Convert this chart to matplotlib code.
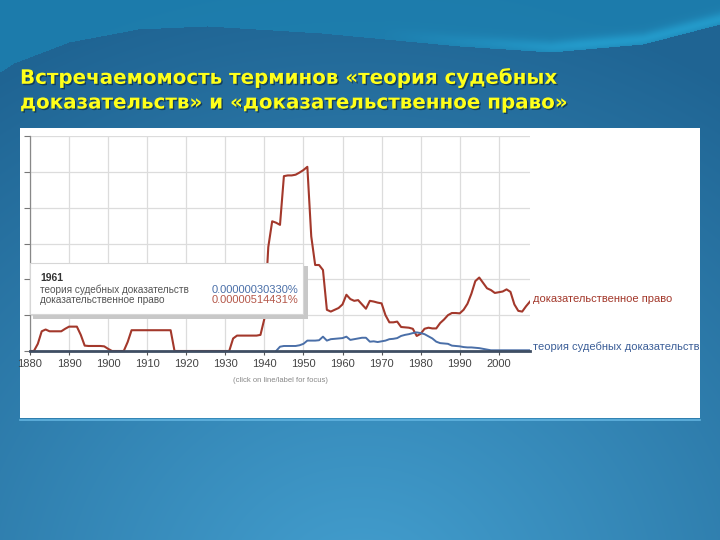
import numpy as np
import matplotlib.pyplot as plt
from matplotlib.patches import Rectangle
import matplotlib.patheffects as pe

# ---- data (in grid units) ----
years = list(range(1880, 2009))
pravo = [
    0.00, 0.00, 0.20, 0.55, 0.60, 0.55, 0.55, 0.55, 0.55, 0.62,   # 1880s
    0.68, 0.68, 0.68, 0.45, 0.15, 0.14, 0.14, 0.14, 0.14, 0.13,   # 1890s
    0.06, 0.00, 0.00, 0.00, 0.00, 0.25, 0.58, 0.58, 0.58, 0.58,   # 1900s
    0.58, 0.58, 0.58, 0.58, 0.58, 0.58, 0.58, 0.00, 0.00, 0.00,   # 1910s
    0.00, 0.00, 0.00, 0.00, 0.00, 0.00, 0.00, 0.00, 0.00, 0.00,   # 1920s
    0.00, 0.00, 0.35, 0.43, 0.43, 0.43, 0.43, 0.43, 0.43, 0.45,   # 1930s
    0.90, 2.90, 3.62, 3.58, 3.52, 4.88, 4.90, 4.90, 4.92, 4.98,   # 1940s
    5.05, 5.14, 3.20, 2.40, 2.40, 2.26, 1.15, 1.10, 1.15, 1.20,   # 1950s
    1.30, 1.57, 1.45, 1.40, 1.42, 1.30, 1.18, 1.40, 1.38, 1.35,   # 1960s
    1.33, 1.00, 0.80, 0.80, 0.82, 0.67, 0.66, 0.65, 0.62, 0.42,   # 1970s
    0.48, 0.62, 0.65, 0.63, 0.63, 0.78, 0.88, 1.00, 1.06, 1.06,   # 1980s
    1.05, 1.15, 1.32, 1.60, 1.95, 2.05, 1.90, 1.75, 1.70, 1.62,   # 1990s
    1.64, 1.66, 1.72, 1.65, 1.30, 1.12, 1.10, 1.25, 1.38,         # 2000s
]
years_teoria = list(range(1943, 2009))
teoria = [
    0.00, 0.12, 0.14, 0.14, 0.14, 0.14, 0.16,                     # 1943-49
    0.20, 0.29, 0.29, 0.29, 0.30, 0.40, 0.29, 0.33, 0.34, 0.35,   # 1950s
    0.36, 0.40, 0.31, 0.33, 0.35, 0.37, 0.37, 0.26, 0.27, 0.25,   # 1960s
    0.27, 0.29, 0.33, 0.34, 0.36, 0.42, 0.45, 0.47, 0.50, 0.52,   # 1970s
    0.50, 0.47, 0.41, 0.35, 0.26, 0.22, 0.21, 0.20, 0.15, 0.14,   # 1980s
    0.13, 0.11, 0.10, 0.10, 0.09, 0.08, 0.06, 0.04, 0.02, 0.02,   # 1990s
    0.02, 0.02, 0.02, 0.02, 0.02, 0.02, 0.02, 0.02, 0.02,         # 2000s
]
decades = list(range(1880, 2001, 10))

RED = "#a3382b"
BLUE = "#4a6fa8"
W, H = 720, 540

fig = plt.figure(figsize=(7.2, 5.4), dpi=100)

# ---- slide background ----
bg = fig.add_axes([0, 0, 1, 1])
bg.set_xlim(0, W)
bg.set_ylim(H, 0)
bg.axis("off")

yy, xx = np.mgrid[0:H, 0:W]
dist = np.sqrt(((xx - 360) / 1.1) ** 2 + ((yy - 600) * 1.0) ** 2)
t = np.clip(dist / 620, 0, 1)[..., None]
c_mid = np.array([0x44, 0xa0, 0xd0]) / 255
c_edge = np.array([0x1f, 0x64, 0x93]) / 255
img = c_mid * (1 - t) + c_edge * t

# top wave
wx = [0, 14, 69, 138, 207, 321, 459, 551, 643, 720]
wy = [72, 63, 42, 29, 26, 33, 46, 52, 44, 24]
curve = np.interp(np.arange(W), wx, wy)[None, :]
above = (yy < curve)[..., None]
teal = np.array([0x1c, 0x86, 0xb6]) / 255
img = np.where(above, img * 0.3 + teal * 0.7, img)
d = curve - yy
glow = np.exp(-((d - 5) ** 2) / (2 * 5.0 ** 2)) * np.clip((xx - 380) / 200, 0, 1) * (d > 0)
cyan = np.array([0x26, 0xa6, 0xd6]) / 255
img = img * (1 - 0.7 * glow[..., None]) + cyan * 0.7 * glow[..., None]
bg.imshow(img, extent=(0, W, H, 0), aspect="auto", zorder=0)

# white panel
bg.add_patch(Rectangle((20, 128), 680, 290, facecolor="white", edgecolor="none", zorder=2))
bg.plot([20, 700], [419.5, 419.5], color="#62b4e0", lw=1.2, zorder=2)

# ---- title ----
title_fx = [pe.withSimplePatchShadow(offset=(1, -1), shadow_rgbFace="#0b2c44", alpha=0.7)]
bg.text(20, 78, "Встречаемомость терминов «теория судебных", fontsize=14.3, fontweight="bold",
        color="#ffff1a", ha="left", va="center", path_effects=title_fx, zorder=5)
bg.text(20, 103, "доказательств» и «доказательственное право»", fontsize=14.3, fontweight="bold",
        color="#ffff1a", ha="left", va="center", path_effects=title_fx, zorder=5)

# ---- ngram chart ----
ax = fig.add_axes([30 / W, 1 - 351 / H, 500 / W, 215 / H])
ax.set_facecolor("none")
ax.set_xlim(1880, 2008)
ax.set_ylim(0, 6)

ax.plot(years, pravo, color=RED, lw=1.5, zorder=3, solid_joinstyle="round")
ax.plot(years_teoria, teoria, color=BLUE, lw=1.4, zorder=3, solid_joinstyle="round")

ax.set_xticks(decades)
ax.set_xticklabels([str(d) for d in decades], family="Liberation Sans", fontsize=8, color="#444444")
ax.set_yticks(range(0, 7))
ax.set_yticklabels([])
ax.grid(True, color="#dcdcdc", lw=0.9, zorder=0)
ax.tick_params(axis="x", length=3, color="#555555", pad=3)
ax.tick_params(axis="y", length=4, color="#777777", direction="out")
for s in ["top", "right"]:
    ax.spines[s].set_visible(False)
ax.spines["left"].set_color("#888888")
ax.spines["left"].set_linewidth(0.9)
ax.spines["bottom"].set_color("#3f4e63")
ax.spines["bottom"].set_linewidth(2.0)
ax.spines["bottom"].set_zorder(4)

# ---- overlay: tooltip and labels ----
ov = fig.add_axes([0, 0, 1, 1])
ov.set_facecolor("none")
ov.set_xlim(0, W)
ov.set_ylim(H, 0)
ov.axis("off")

ov.add_patch(Rectangle((33, 266), 275, 53, facecolor="#c8c8c8", edgecolor="none", zorder=5))
ov.add_patch(Rectangle((30, 263), 273, 51, facecolor="white", edgecolor="#d6d6d6", lw=0.8, zorder=6))
lab = ["Liberation Sans"]
ov.text(40, 278, "1961", family=lab, fontsize=7.5, fontweight="bold", color="#333333",
        ha="left", va="center", zorder=7)
ov.text(40, 290, "теория судебных доказательств", family=lab, fontsize=7.2, color="#555555",
        ha="left", va="center", zorder=7)
ov.text(40, 300, "доказательственное право", family=lab, fontsize=7.2, color="#555555",
        ha="left", va="center", zorder=7)
ov.text(212, 290, "0.00000030330%", family=lab, fontsize=8, color=BLUE,
        ha="left", va="center", zorder=7)
ov.text(212, 300, "0.00000514431%", family=lab, fontsize=8, color="#b5584a",
        ha="left", va="center", zorder=7)

ov.text(533, 299, "доказательственное право", family=lab, fontsize=8, color=RED,
        ha="left", va="center", zorder=7)
ov.text(533, 347, "теория судебных доказательств", family=lab, fontsize=8, color="#3c5f98",
        ha="left", va="center", zorder=7)
ov.text(280, 381, "(click on line/label for focus)", family=lab, fontsize=5.5, color="#888888",
        ha="center", va="center", zorder=7)

fig.savefig("out.png", dpi=100)
